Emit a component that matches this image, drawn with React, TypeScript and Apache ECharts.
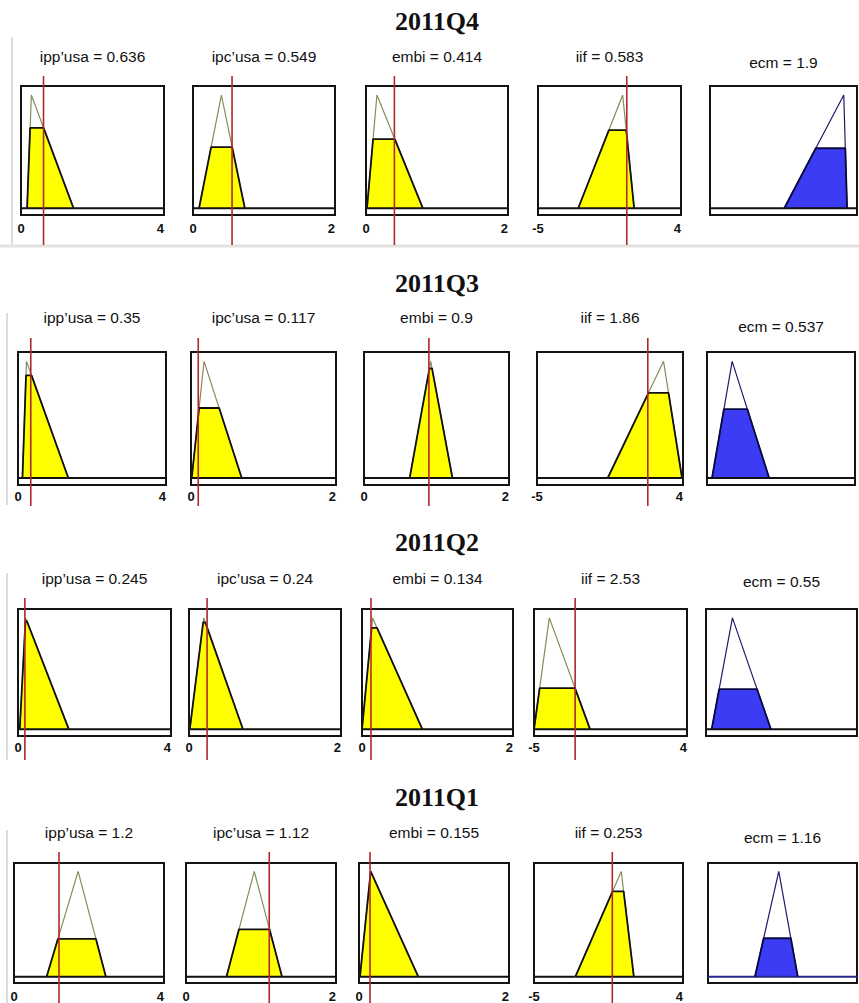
import React, { useEffect, useRef } from "react";
import * as echarts from "echarts";

// ---------------- data ----------------
const quarters = ["2011Q4", "2011Q3", "2011Q2", "2011Q1"];
const variables = ["ipp’usa", "ipc’usa", "embi", "iif", "ecm"];
const xMin = [0, 0, 0, -5, 0];
const xMax = [4, 2, 2, 4, 2];

// values printed above each panel
const shownQ4 = ["0.636", "0.549", "0.414", "0.583", "1.9"];
const shownQ3 = ["0.35", "0.117", "0.9", "1.86", "0.537"];
const shownQ2 = ["0.245", "0.24", "0.134", "2.53", "0.55"];
const shownQ1 = ["1.2", "1.12", "0.155", "0.253", "1.16"];

// red input lines
const inputQ4 = [0.63, 0.55, 0.4, 0.587];
const inputQ3 = [0.345, 0.1, 0.895, 1.83];
const inputQ2 = [0.18, 0.238, 0.119, -2.58];
const inputQ1 = [1.2, 1.11, 0.147, -0.27];

// triangular membership functions [foot, peak, foot]
const triQ4 = [[0.17, 0.29, 1.47], [0.085, 0.4, 0.73], [0.014, 0.154, 0.8], [-2.47, 0.33, 1.05], [1.01, 1.82, 1.865]];
const triQ3 = [[0.12, 0.23, 1.36], [0.01, 0.18, 0.7], [0.63, 0.92, 1.22], [-0.64, 2.8, 3.94], [0.068, 0.34, 0.84]];
const triQ2 = [[0.045, 0.2, 1.33], [0.01, 0.194, 0.71], [0.0, 0.14, 0.8], [-5.0, -4.1, -1.7], [0.075, 0.35, 0.86]];
const triQ1 = [[0.87, 1.71, 2.45], [0.54, 0.91, 1.28], [0.013, 0.156, 0.79], [-2.5, 0.27, 1.03], [0.63, 0.95, 1.205]];

// firing levels (height of the filled part)
const levelQ4 = [0.71, 0.54, 0.61, 0.69, 0.53];
const levelQ3 = [0.88, 0.6, 0.94, 0.73, 0.59];
const levelQ2 = [0.97, 0.96, 0.91, 0.37, 0.36];
const levelQ1 = [0.36, 0.45, 1.0, 0.81, 0.365];

const shown = [shownQ4, shownQ3, shownQ2, shownQ1];
const inputs = [inputQ4, inputQ3, inputQ2, inputQ1];
const tris = [triQ4, triQ3, triQ2, triQ1];
const levels = [levelQ4, levelQ3, levelQ2, levelQ1];

// ---------------- layout ----------------
const YMIN = -0.06;
const YMAX = 1.08;
const layout = [
  { titleY: 21, labelY: 56, ecmY: 62, top: 86, bottom: 215, tickY: 229, redTop: 76, redBottom: 245, frameTop: 37, frameBottom: 246,
    cols: [[21, 164], [193, 335], [366, 508], [538, 681], [710, 857]] },
  { titleY: 283, labelY: 317, ecmY: 326, top: 352, bottom: 485, tickY: 497, redTop: 338, redBottom: 506, frameTop: 313, frameBottom: 505,
    cols: [[18, 166], [191, 336], [364, 509], [537, 683], [707, 855]] },
  { titleY: 542, labelY: 578, ecmY: 581, top: 609, bottom: 736, tickY: 748, redTop: 598, redBottom: 760, frameTop: 573, frameBottom: 760,
    cols: [[18, 171], [189, 341], [362, 513], [534, 687], [706, 857]] },
  { titleY: 797, labelY: 832, ecmY: 837, top: 863, bottom: 983, tickY: 997, redTop: 852, redBottom: 1003, frameTop: 830, frameBottom: 1003,
    cols: [[14, 164], [186, 336], [359, 509], [534, 683], [708, 857]] },
];

function buildOption() {
  const grid: any[] = [];
  const xAxis: any[] = [];
  const yAxis: any[] = [];
  const series: any[] = [];
  const graphic: any[] = [];

  quarters.forEach((q, r) => {
    const L = layout[r];
    graphic.push({
      type: "line",
      shape: { x1: r === 0 ? 12 : 7, y1: L.frameTop, x2: r === 0 ? 12 : 7, y2: L.frameBottom },
      style: { stroke: "#dcdcdc", lineWidth: 2 },
      silent: true,
    });
    if (r === 0) {
      graphic.push({
        type: "line",
        shape: { x1: 0, y1: 246, x2: 859, y2: 246 },
        style: { stroke: "#e2e2e2", lineWidth: 3 },
        silent: true,
      });
    }
    graphic.push({
      type: "text",
      x: 437,
      y: L.titleY,
      style: {
        text: q,
        font: 'bold 26px "Liberation Serif", "DejaVu Serif", serif',
        fill: "#111",
        align: "center",
        verticalAlign: "middle",
      },
    });

    variables.forEach((v, c) => {
      const idx = r * 5 + c;
      const [x0, x1] = L.cols[c];
      const isOut = c === 4;
      const h = L.bottom - L.top;
      grid.push({
        left: x0,
        top: L.top,
        width: x1 - x0,
        height: h,
        show: true,
        borderColor: "#141414",
        borderWidth: 2,
        backgroundColor: "#ffffff",
        containLabel: false,
      });
      xAxis.push({
        gridIndex: idx,
        type: "value",
        min: xMin[c],
        max: xMax[c],
        axisLine: { show: false },
        axisTick: { show: false },
        splitLine: { show: false },
        axisLabel: {
          show: !isOut,
          customValues: [xMin[c], xMax[c]],
          margin: L.tickY - L.bottom - 7,
          fontSize: 13,
          fontWeight: "bold",
          fontFamily: '"Liberation Sans", Arial, sans-serif',
          color: "#111",
          alignMaxLabel: "right",
          formatter: (val: number) => String(val),
        },
      });
      yAxis.push({ gridIndex: idx, type: "value", min: YMIN, max: YMAX, show: false });

      const [a, b, cc] = tris[r][c];
      const lv = levels[r][c];
      const outline = isOut ? "#1c1c6a" : "#8a8a5a";
      const edge = isOut ? "#0a0a40" : "#111111";
      const fill = isOut ? "#3c3cf5" : "#ffff00";

      series.push({
        type: "line",
        xAxisIndex: idx,
        yAxisIndex: idx,
        data: [[xMin[c], 0], [xMax[c], 0]],
        symbol: "none",
        lineStyle: { color: isOut && r === 3 ? "#25258a" : "#111", width: 2 },
        silent: true,
      });
      series.push({
        type: "line",
        xAxisIndex: idx,
        yAxisIndex: idx,
        data: [[a, 0], [b, 1], [cc, 0]],
        symbol: "none",
        lineStyle: { color: outline, width: 1.2 },
        silent: true,
      });
      series.push({
        type: "line",
        xAxisIndex: idx,
        yAxisIndex: idx,
        data: [
          [a, 0],
          [a + lv * (b - a), lv],
          [cc - lv * (cc - b), lv],
          [cc, 0],
        ],
        symbol: "none",
        lineStyle: { color: edge, width: 1.8 },
        areaStyle: { color: fill, opacity: 1 },
        silent: true,
      });
      if (!isOut) {
        const yOf = (py: number) => YMIN + ((L.bottom - py) / h) * (YMAX - YMIN);
        series.push({
          type: "line",
          xAxisIndex: idx,
          yAxisIndex: idx,
          data: [[inputs[r][c], yOf(L.redBottom)], [inputs[r][c], yOf(L.redTop)]],
          symbol: "none",
          clip: false,
          z: 5,
          lineStyle: { color: "#b3262a", width: 1.6 },
          silent: true,
        });
      }
      graphic.push({
        type: "text",
        x: (x0 + x1) / 2,
        y: isOut ? L.ecmY : L.labelY,
        style: {
          text: `${v} = ${shown[r][c]}`,
          font: '15.5px "Liberation Sans", Arial, sans-serif',
          fill: "#111",
          align: "center",
          verticalAlign: "middle",
        },
      });
    });
  });

  return {
    animation: false,
    backgroundColor: "#ffffff",
    grid,
    xAxis,
    yAxis,
    series,
    graphic,
  };
}

export default function App() {
  const ref = useRef<HTMLDivElement>(null);
  useEffect(() => {
    document.body.style.margin = "0";
    const chart = echarts.init(ref.current!, null, { renderer: "svg" });
    chart.setOption(buildOption() as any);
    return () => chart.dispose();
  }, []);
  return <div ref={ref} style={{ width: 859, height: 1003 }} />;
}
